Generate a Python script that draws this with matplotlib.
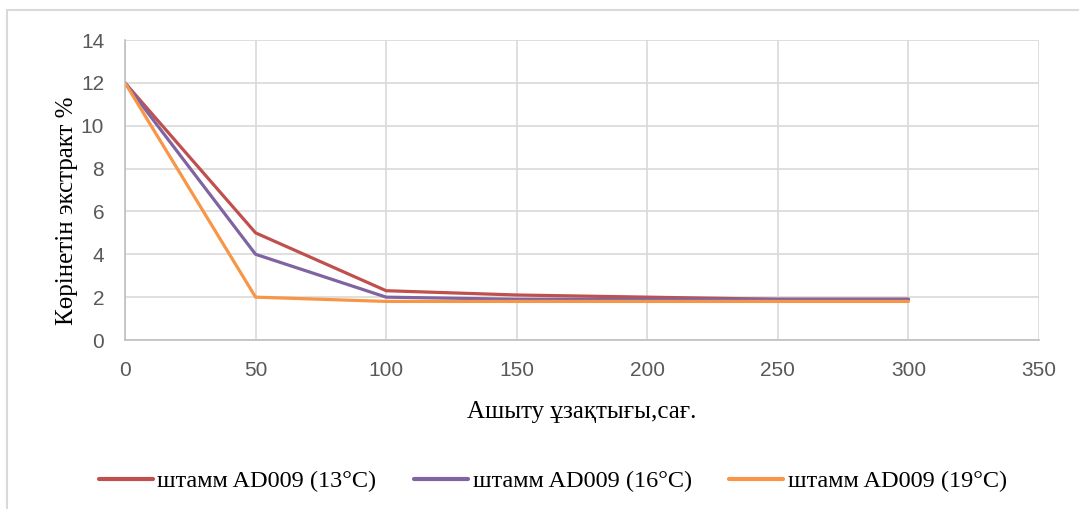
import matplotlib.pyplot as plt
from matplotlib.patches import Rectangle

hours = [0, 50, 100, 150, 200, 250, 300]
extract_13 = [12, 5.0, 2.3, 2.1, 2.0, 1.9, 1.9]
extract_16 = [12, 4.0, 2.0, 1.9, 1.9, 1.9, 1.9]
extract_19 = [12, 2.0, 1.8, 1.8, 1.8, 1.8, 1.8]
labels = ['штамм AD009 (13°C)', 'штамм AD009 (16°C)', 'штамм AD009 (19°C)']
colors = ['#C0504D', '#8064A2', '#F79646']

W, H = 1079, 509
fig = plt.figure(figsize=(W/100, H/100), dpi=100)

# chart frame (only top and left edges fall inside the image)
fig.patches.append(Rectangle((7/W, -0.5), 2, (H-10)/H + 0.5, transform=fig.transFigure,
                             fill=False, edgecolor='#d9d9d9', linewidth=1.5))

ax = fig.add_axes([125/W, (H-340)/H, (1039-125)/W, 300/H])

for y, lab, c in zip([extract_13, extract_16, extract_19], labels, colors):
    ax.plot(hours, y, color=c, linewidth=2.3, label=lab, solid_capstyle='round')

ax.set_xlim(0, 350)
ax.set_ylim(0, 14)
ax.set_xticks(range(0, 351, 50))
ax.set_yticks(range(0, 15, 2))
ax.grid(True, color='#d9d9d9', linewidth=1.2)
ax.set_axisbelow(True)
for s in ['top', 'right']:
    ax.spines[s].set_visible(False)
for s in ['left', 'bottom']:
    ax.spines[s].set_color('#bfbfbf')
    ax.spines[s].set_linewidth(1.2)
ax.tick_params(length=0, labelsize=15, labelcolor='#595959', pad=15)
for t in ax.get_xticklabels() + ax.get_yticklabels():
    t.set_fontfamily('Liberation Sans')

ax.set_xlabel('Ашыту ұзақтығы,сағ.', fontfamily='Liberation Serif', fontsize=18, labelpad=15)
ax.set_ylabel('Көрінетін экстракт %', fontfamily='Liberation Serif', fontsize=18)
ax.yaxis.set_label_coords(-47/914, 0.43)

leg = fig.legend(loc='center', bbox_to_anchor=(553/W, (H-481)/H), ncol=3, frameon=False,
                 prop={'family': 'Liberation Serif', 'size': 17.5},
                 handlelength=2.2, handletextpad=0.2, columnspacing=1.55)
for h in leg.get_lines():
    h.set_linewidth(3)

fig.savefig('out.png', dpi=100)
